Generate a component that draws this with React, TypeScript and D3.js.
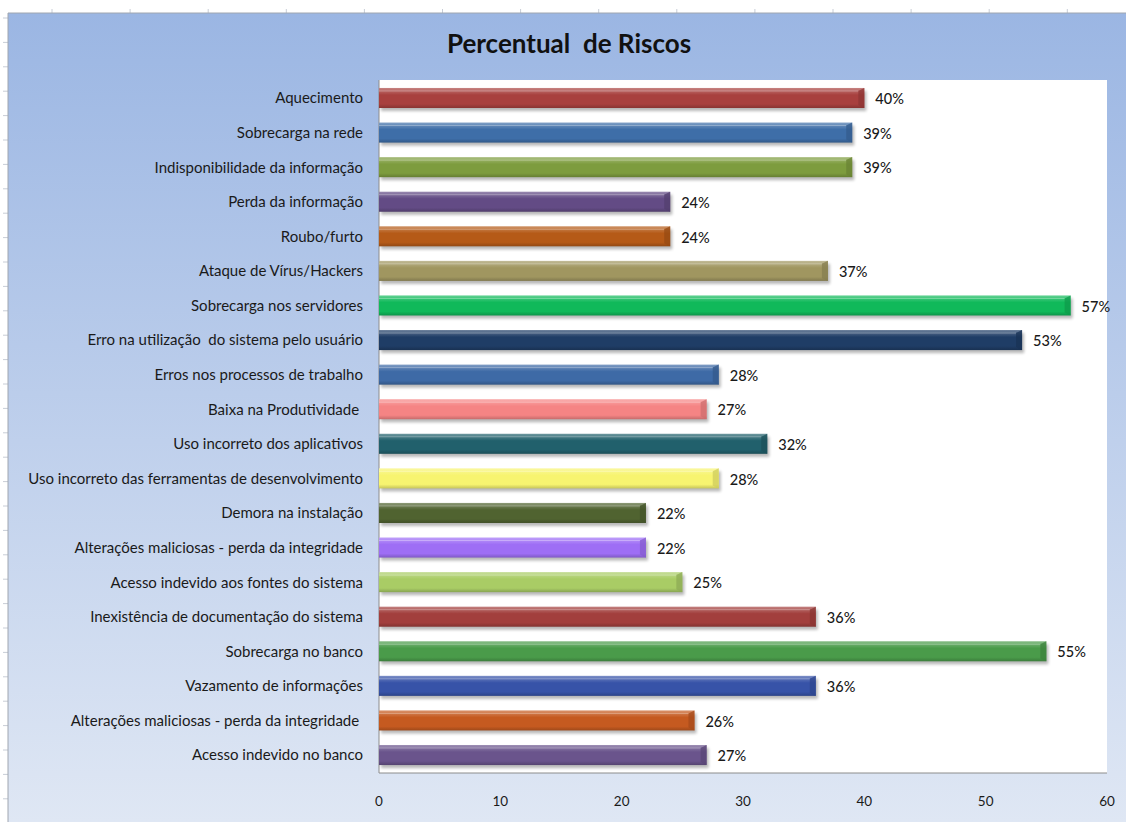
import * as d3 from 'd3';

const categories = [
  'Aquecimento',
  'Sobrecarga na rede',
  'Indisponibilidade da informação',
  'Perda da informação',
  'Roubo/furto',
  'Ataque de Vírus/Hackers',
  'Sobrecarga nos servidores',
  'Erro na utilização  do sistema pelo usuário',
  'Erros nos processos de trabalho',
  'Baixa na Produtividade ',
  'Uso incorreto dos aplicativos',
  'Uso incorreto das ferramentas de desenvolvimento',
  'Demora na instalação',
  'Alterações maliciosas - perda da integridade',
  'Acesso indevido aos fontes do sistema',
  'Inexistência de documentação do sistema',
  'Sobrecarga no banco',
  'Vazamento de informações',
  'Alterações maliciosas - perda da integridade ',
  'Acesso indevido no banco',
];

const values = [40, 39, 39, 24, 24, 37, 57, 53, 28, 27, 32, 28, 22, 22, 25, 36, 55, 36, 26, 27];

const colors = [
  '#a8403e', '#3e6ea8', '#7d9c3e', '#634b85', '#b55a17',
  '#a09660', '#10b95a', '#1f3d66', '#3e6aa6', '#f58484',
  '#21606c', '#f7f470', '#506330', '#9e6ef5', '#a9cc65',
  '#a23f3d', '#4a9b4a', '#3753a8', '#c55a20', '#6a548c',
];

const xTicks = [0, 10, 20, 30, 40, 50, 60];

const W = 1126;
const H = 822;
const plot = { left: 379, right: 1107, top: 80, bottom: 773 };
const font = 'Lato, "Open Sans", sans-serif';

export default function App() {
  const x = d3.scaleLinear().domain([0, 60]).range([plot.left, plot.right]);
  const y = d3
    .scaleBand<string>()
    .domain(categories.map((c, i) => `${i}`))
    .range([plot.top, plot.bottom])
    .paddingInner(0.42)
    .paddingOuter(0.23);
  const bh = y.bandwidth();

  // spreadsheet grid ticks around the chart object
  const colTicks = d3.range(52, W, 78.1);
  const rowTicks = d3.range(18, H, 24.4);

  return (
    <svg width={W} height={H} style={{ position: 'absolute', left: 0, top: 0 }}>
      <defs>
        <linearGradient id="bg" x1="0" y1="0" x2="0" y2="1">
          <stop offset="0%" stopColor="#9bb6e3" />
          <stop offset="100%" stopColor="#dfe7f4" />
        </linearGradient>
        <filter id="shadow" x="-5%" y="-30%" width="110%" height="180%">
          <feGaussianBlur stdDeviation="1.5" />
        </filter>
        {colors.map((c, i) => {
          const base = d3.color(c)!;
          const light = d3.interpolateRgb(c, '#ffffff')(0.35);
          const dark = base.darker(0.6).formatHex();
          return (
            <linearGradient key={i} id={`g${i}`} x1="0" y1="0" x2="0" y2="1">
              <stop offset="0%" stopColor={light} />
              <stop offset="18%" stopColor={d3.interpolateRgb(c, '#ffffff')(0.15)} />
              <stop offset="35%" stopColor={c} />
              <stop offset="80%" stopColor={c} />
              <stop offset="100%" stopColor={dark} />
            </linearGradient>
          );
        })}
      </defs>

      <rect x={0} y={0} width={W} height={H} fill="#ffffff" />
      {colTicks.map((t, i) => (
        <line key={`c${i}`} x1={t} x2={t} y1={9} y2={13} stroke="#c8cdd6" />
      ))}
      {rowTicks.map((t, i) => (
        <line key={`r${i}`} x1={3} x2={8} y1={t} y2={t} stroke="#c8cdd6" />
      ))}

      <rect x={8} y={13} width={W - 8} height={H - 13} fill="url(#bg)" />
      <line x1={8} x2={W} y1={13} y2={13} stroke="#a0a6b0" />
      <line x1={8} x2={8} y1={13} y2={H} stroke="#a0a6b0" />

      <text
        x={569}
        y={53}
        textAnchor="middle"
        fontFamily={font}
        fontWeight={700}
        fontSize={26}
        fill="#111"
        style={{ whiteSpace: 'pre' }}
      >
        {'Percentual  de Riscos'}
      </text>

      <rect
        x={plot.left}
        y={plot.top}
        width={plot.right - plot.left}
        height={plot.bottom - plot.top}
        fill="#ffffff"
      />
      <line x1={plot.left} x2={plot.left} y1={plot.top} y2={plot.bottom} stroke="#8c8c8c" />
      <line x1={plot.left} x2={plot.right} y1={plot.bottom} y2={plot.bottom} stroke="#8c8c8c" />

      {values.map((v, i) => {
        const y0 = y(`${i}`)!;
        const x1 = x(v);
        const w = x1 - plot.left;
        const bev = 6;
        return (
          <g key={i}>
            <rect
              x={plot.left + 2}
              y={y0 + 3}
              width={w}
              height={bh}
              fill="#000"
              opacity={0.28}
              filter="url(#shadow)"
            />
            <rect x={plot.left} y={y0} width={w} height={bh} fill={`url(#g${i})`} />
            <polygon
              points={`${x1 - bev},${y0 + 3} ${x1},${y0} ${x1},${y0 + bh} ${x1 - bev},${y0 + bh - 3}`}
              fill={d3.color(colors[i])!.darker(0.5).formatHex()}
              opacity={0.75}
            />
            <line
              x1={plot.left}
              x2={x1 - bev}
              y1={y0 + 3}
              y2={y0 + 3}
              stroke="#ffffff"
              strokeOpacity={0.3}
            />
            <text
              x={x1 + 11}
              y={y0 + bh / 2 + 1}
              dy="0.36em"
              fontFamily={font}
              fontSize={14.5}
              fontWeight={500}
              fill="#1a1a1a"
            >
              {v}%
            </text>
          </g>
        );
      })}

      {categories.map((c, i) => (
        <text
          key={i}
          x={363}
          y={y(`${i}`)! + bh / 2}
          dy="0.36em"
          textAnchor="end"
          fontFamily={font}
          fontSize={15}
          fill="#1a1a1a"
          style={{ whiteSpace: 'pre' }}
        >
          {c}
        </text>
      ))}

      {xTicks.map((t) => (
        <text
          key={t}
          x={x(t)}
          y={801}
          dy="0.36em"
          textAnchor="middle"
          fontFamily={font}
          fontSize={13.5}
          fill="#1a1a1a"
        >
          {t}
        </text>
      ))}
    </svg>
  );
}
